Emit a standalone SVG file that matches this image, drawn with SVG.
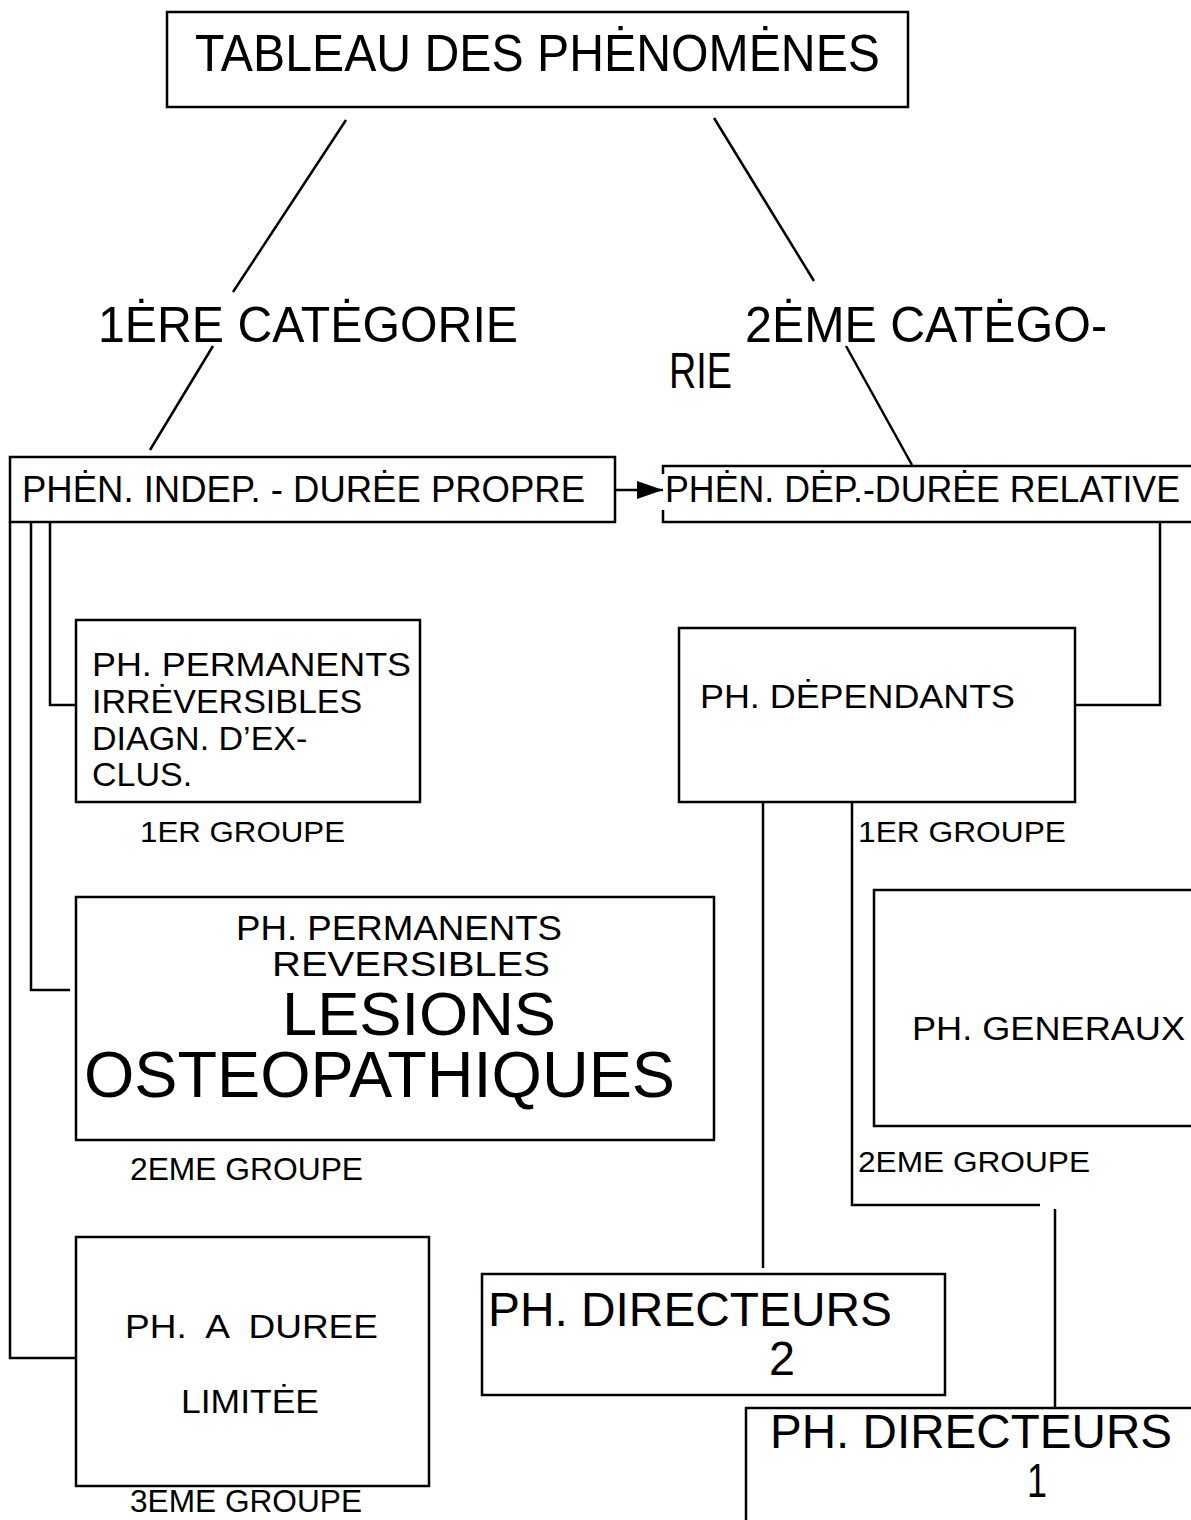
<svg xmlns="http://www.w3.org/2000/svg" width="1191" height="1520" viewBox="0 0 1191 1520">
  <style>
    .box { fill: #fff; stroke: #000; stroke-width: 2.5; }
    .edge { fill: none; stroke: #000; stroke-width: 2.5; }
    text { font-family: "Liberation Sans", Arial, sans-serif; fill: #000; }
    .pre { white-space: pre; }
  </style>
  <defs>
    <marker id="arrowhead" markerWidth="26" markerHeight="18" refX="26" refY="9" orient="auto" markerUnits="userSpaceOnUse">
      <polygon points="0,0 26,9 0,18" fill="#000"/>
    </marker>
  </defs>

  <rect width="1191" height="1520" fill="#fff"/>

  <!-- connectors -->
  <g id="connectors">
    <line class="edge" x1="346" y1="120" x2="233" y2="292"/>
    <line class="edge" x1="213" y1="346" x2="150" y2="450"/>
    <line class="edge" x1="714" y1="118" x2="814" y2="281"/>
    <line class="edge" x1="846" y1="346" x2="912" y2="465"/>
    <line class="edge" x1="615" y1="490" x2="663" y2="490" marker-end="url(#arrowhead)"/>
    <polyline class="edge" points="1160,522 1160,705 1075,705"/>
    <polyline class="edge" points="50,522 50,705 76,705"/>
    <polyline class="edge" points="31,522 31,990 70,990"/>
    <polyline class="edge" points="10,522 10,1358 76,1358"/>
    <line class="edge" x1="763" y1="802" x2="763" y2="1268"/>
    <polyline class="edge" points="852,802 852,1205 1040,1205"/>
    <line class="edge" x1="1055" y1="1209" x2="1055" y2="1408"/>
  </g>

  <!-- title -->
  <g id="n-tableau">
    <rect class="box" x="167" y="12" width="741" height="95"/>
    <text x="195" y="71" font-size="52" textLength="685" lengthAdjust="spacingAndGlyphs">TABLEAU DES PHĖNOMĖNES</text>
  </g>

  <!-- categories -->
  <g id="n-cat1">
    <text x="98" y="342" font-size="50" textLength="420" lengthAdjust="spacingAndGlyphs">1ĖRE CATĖGORIE</text>
  </g>
  <g id="n-cat2">
    <text x="745" y="342" font-size="50" textLength="362" lengthAdjust="spacingAndGlyphs">2ĖME CATĖGO-</text>
    <text x="669" y="388" font-size="50" textLength="63" lengthAdjust="spacingAndGlyphs">RIE</text>
  </g>

  <g id="n-indep">
    <rect class="box" x="10" y="457" width="605" height="65"/>
    <text x="22" y="502" font-size="37" textLength="563" lengthAdjust="spacingAndGlyphs">PHĖN. INDEP. - DURĖE PROPRE</text>
  </g>

  <g id="n-dep">
    <path class="edge" d="M663,474 V466 H1200 M663,510 V522 H1200"/>
    <text x="665" y="502" font-size="37" textLength="515" lengthAdjust="spacingAndGlyphs">PHĖN. DĖP.-DURĖE RELATIVE</text>
  </g>

  <!-- left column -->
  <g id="n-group1">
    <rect class="box" x="76" y="620" width="344" height="182"/>
    <text x="92" y="676" font-size="34" textLength="319" lengthAdjust="spacingAndGlyphs">PH. PERMANENTS</text>
    <text x="92" y="713" font-size="34">IRRĖVERSIBLES</text>
    <text x="92" y="750" font-size="34">DIAGN. D’EX-</text>
    <text x="92" y="786" font-size="34">CLUS.</text>
    <text x="140" y="842" font-size="30" textLength="205" lengthAdjust="spacingAndGlyphs">1ER GROUPE</text>
  </g>

  <g id="n-group2">
    <rect class="box" x="76" y="897" width="638" height="243"/>
    <text x="236" y="940" font-size="35" textLength="326" lengthAdjust="spacingAndGlyphs">PH. PERMANENTS</text>
    <text x="272" y="976" font-size="35" textLength="278" lengthAdjust="spacingAndGlyphs">REVERSIBLES</text>
    <text x="282" y="1035" font-size="62" textLength="274" lengthAdjust="spacingAndGlyphs">LESIONS</text>
    <text x="84" y="1097" font-size="64" textLength="591" lengthAdjust="spacingAndGlyphs">OSTEOPATHIQUES</text>
    <text x="130" y="1180" font-size="32" textLength="233" lengthAdjust="spacingAndGlyphs">2EME GROUPE</text>
  </g>

  <g id="n-group3">
    <rect class="box" x="76" y="1237" width="353" height="249"/>
    <text class="pre" x="125" y="1338" font-size="34" textLength="253" lengthAdjust="spacingAndGlyphs">PH.  A  DUREE</text>
    <text x="181" y="1413" font-size="34" textLength="138" lengthAdjust="spacingAndGlyphs">LIMITĖE</text>
    <text x="130" y="1512" font-size="31" textLength="232" lengthAdjust="spacingAndGlyphs">3EME GROUPE</text>
  </g>

  <!-- right column -->
  <g id="n-dependants">
    <rect class="box" x="679" y="628" width="396" height="174"/>
    <text x="700" y="708" font-size="34" textLength="315" lengthAdjust="spacingAndGlyphs">PH. DĖPENDANTS</text>
    <text x="858" y="842" font-size="30" textLength="208" lengthAdjust="spacingAndGlyphs">1ER GROUPE</text>
  </g>

  <g id="n-generaux">
    <rect class="box" x="874" y="890" width="330" height="236"/>
    <text x="912" y="1040" font-size="34" textLength="273" lengthAdjust="spacingAndGlyphs">PH. GENERAUX</text>
    <text x="858" y="1172" font-size="30" textLength="232" lengthAdjust="spacingAndGlyphs">2EME GROUPE</text>
  </g>

  <g id="n-directeurs2">
    <rect class="box" x="482" y="1274" width="463" height="121"/>
    <text x="488" y="1326" font-size="48" textLength="404" lengthAdjust="spacingAndGlyphs">PH. DIRECTEURS</text>
    <text x="769" y="1375" font-size="48" textLength="26" lengthAdjust="spacingAndGlyphs">2</text>
  </g>

  <g id="n-directeurs1">
    <rect class="box" x="746" y="1408" width="460" height="130"/>
    <text x="770" y="1448" font-size="48" textLength="402" lengthAdjust="spacingAndGlyphs">PH. DIRECTEURS</text>
    <text x="1027" y="1497" font-size="48" textLength="20" lengthAdjust="spacingAndGlyphs">1</text>
  </g>
</svg>
